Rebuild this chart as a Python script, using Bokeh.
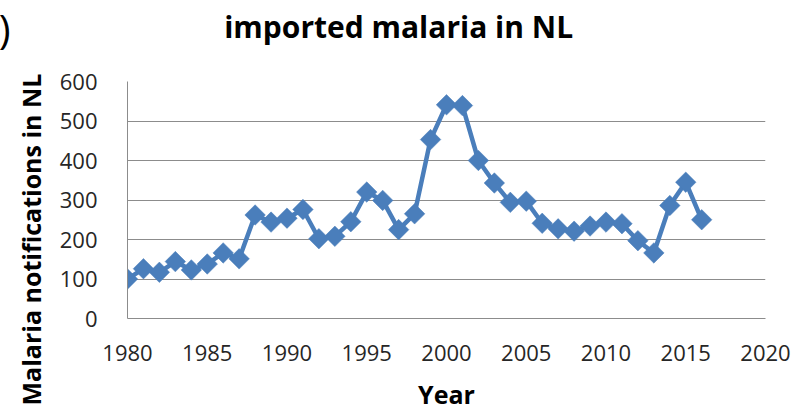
import math
from bokeh.plotting import figure
from bokeh.models import ColumnDataSource, Label, FixedTicker, Range1d
from bokeh.embed import file_html
from bokeh.resources import INLINE

years = list(range(1980, 2017))
notifications = [100, 126, 117, 144, 123, 138, 166, 151, 262, 244,
                 254, 276, 202, 208, 245, 320, 299, 225, 265, 453,
                 541, 539, 400, 343, 294, 297, 241, 227, 221, 234,
                 244, 240, 197, 166, 286, 345, 250]
x_ticks = [1980, 1985, 1990, 1995, 2000, 2005, 2010, 2015, 2020]
y_ticks = [0, 100, 200, 300, 400, 500, 600]

title_text = "imported malaria in NL"
x_label = "Year"
y_label = "Malaria notifications in NL"

FONT = "Open Sans"
BLUE = "#4A7EBB"
GRID = "#8C8C8C"
TXT = "#262626"

src = ColumnDataSource(dict(x=years, y=notifications))

p = figure(width=800, height=400, output_backend="svg", toolbar_location=None,
           x_range=Range1d(1980, 2020), y_range=Range1d(0, 600),
           min_border_left=127, min_border_right=35, min_border_top=81,
           min_border_bottom=82)
p.frame_width = 638
p.frame_height = 237
p.outline_line_color = None
p.background_fill_color = "white"
p.border_fill_color = "white"

p.line("x", "y", source=src, line_color=BLUE, line_width=4.5)
p.scatter("x", "y", source=src, marker="square", size=14.5, angle=math.pi / 4,
          fill_color=BLUE, line_color=BLUE, line_width=0.5)

p.xaxis.ticker = FixedTicker(ticks=x_ticks)
p.yaxis.ticker = FixedTicker(ticks=y_ticks)
for ax in (p.xaxis, p.yaxis):
    ax.axis_line_color = GRID
    ax.axis_line_width = 1
    ax.major_tick_line_color = None
    ax.minor_tick_line_color = None
    ax.major_label_text_font = FONT
    ax.major_label_text_font_size = "22px"
    ax.major_label_text_color = TXT
p.xaxis.major_label_standoff = 20
p.yaxis.major_label_standoff = 24

p.xaxis.axis_label = x_label
p.xaxis.axis_label_text_font = FONT
p.xaxis.axis_label_text_font_style = "bold"
p.xaxis.axis_label_text_font_size = "25px"
p.xaxis.axis_label_text_color = "black"
p.xaxis.axis_label_standoff = 13

p.xgrid.grid_line_color = None
p.ygrid.grid_line_color = GRID
p.ygrid.grid_line_width = 1

# title (placed in the top border panel, positioned via the plot's own scales)
p.add_layout(Label(x=1997.0, y=739, text=title_text, text_font=FONT,
                   text_font_style="bold", text_font_size="30px",
                   text_color="black", text_align="center",
                   text_baseline="alphabetic"), "above")
# stray ")" of a cropped panel letter
p.add_layout(Label(x=1972.66, y=734, text=")", text_font=FONT,
                   text_font_size="40px", text_color="black",
                   text_align="right", text_baseline="alphabetic"), "left")
# y axis title
p.add_layout(Label(x=1973.92, y=200, text=y_label, angle=math.pi / 2,
                   text_font=FONT, text_font_style="bold",
                   text_font_size="25px", text_color="black",
                   text_align="center", text_baseline="alphabetic"), "left")

open("out.html", "w").write(file_html(p, INLINE))
